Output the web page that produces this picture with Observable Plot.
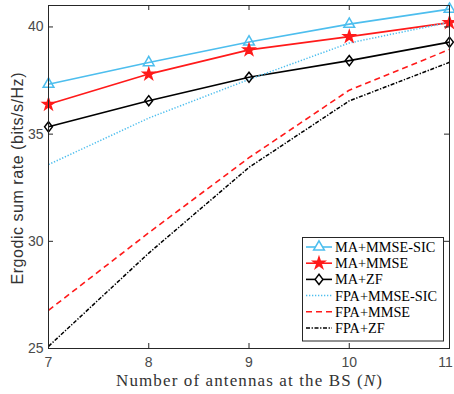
<!DOCTYPE html>
<html><head><meta charset="utf-8">
<script src="https://cdn.jsdelivr.net/npm/d3@7"></script>
<script src="https://cdn.jsdelivr.net/npm/@observablehq/plot@0.6"></script>
<style>html,body{margin:0;padding:0;background:#fff}svg{display:block}</style>
</head><body><div id="chart"></div>
<script>
// ---- data ----
const antennas = [7, 8, 9, 10, 11];
const maMmseSic = [37.33, 38.34, 39.3, 40.13, 40.83];
const maMmse = [36.39, 37.8, 38.93, 39.55, 40.2];
const maZf = [35.34, 36.56, 37.65, 38.43, 39.29];
const fpaMmseSic = [33.58, 35.75, 37.55, 39.25, 40.22];
const fpaMmse = [26.78, 30.4, 33.9, 37.05, 38.95];
const fpaZf = [25.1, 29.45, 33.45, 36.55, 38.35];
const seriesNames = ["MA+MMSE-SIC", "MA+MMSE", "MA+ZF", "FPA+MMSE-SIC", "FPA+MMSE", "FPA+ZF"];
const xTicks = [7, 8, 9, 10, 11];
const yTicks = [25, 30, 35, 40];
const xLabel = "Number of antennas at the BS ";
const xLabelVar = "N";
const yLabel = "Ergodic sum rate (bits/s/Hz)";

// ---- styles ----
const cyan = "#4DBEEE", red = "#FF1A1A", black = "#000000", axisColor = "#262626", tickText = "#4a4a4a";
const diamondSym = {
  draw(ctx, size) {
    const r = Math.sqrt(size / Math.PI);
    const h = r * 1.3, w = r * 1.0;
    ctx.moveTo(0, -h); ctx.lineTo(w, 0); ctx.lineTo(0, h); ctx.lineTo(-w, 0); ctx.closePath();
  }
};
const seriesStyle = [
  {values: maMmseSic, stroke: cyan, dash: null, width: 1.6, symbol: "triangle", fill: "none", r: 4},
  {values: maMmse, stroke: red, dash: null, width: 1.6, symbol: "star", fill: red, r: 3.6},
  {values: maZf, stroke: black, dash: null, width: 1.6, symbol: diamondSym, fill: "none", r: 3.9},
  {values: fpaMmseSic, stroke: cyan, dash: "1.3,1.7", width: 1.5, symbol: null},
  {values: fpaMmse, stroke: red, dash: "6,4", width: 1.6, symbol: null},
  {values: fpaZf, stroke: black, dash: "4,1.6,1.3,1.6", width: 1.5, symbol: null}
];
const tables = seriesStyle.map((s, k) => antennas.map((n, i) => ({n, v: s.values[i], name: seriesNames[k]})));

const W = 454, H = 394, mL = 48, mR = 5, mT = 5, mB = 46;
const pw = W - mL - mR, ph = H - mT - mB;

const marks = [];
seriesStyle.forEach((s, k) => {
  marks.push(Plot.line(tables[k], {x: "n", y: "v", stroke: s.stroke, strokeWidth: s.width,
    strokeDasharray: s.dash || undefined, strokeLinecap: "butt"}));
});
seriesStyle.forEach((s, k) => {
  if (s.symbol) marks.push(Plot.dot(tables[k], {x: "n", y: "v", symbol: s.symbol, r: s.r,
    stroke: s.stroke, fill: s.fill, strokeWidth: 1.5}));
});

const lastX = xTicks[xTicks.length - 1];
const chart = Plot.plot({
  width: W, height: H, marginLeft: mL, marginRight: mR, marginTop: mT, marginBottom: mB,
  style: {fontFamily: "'Liberation Sans', Arial, sans-serif", background: "#fff", color: "#404040"},
  x: {domain: [7, 11], axis: null},
  y: {domain: [25, 41], axis: null},
  marks: [
    ...marks,
    Plot.frame({stroke: axisColor, strokeWidth: 1}),
    Plot.tickX(xTicks, {x: d => d, insetTop: ph - 5, stroke: axisColor}),
    Plot.tickX(xTicks, {x: d => d, insetBottom: ph - 5, stroke: axisColor}),
    Plot.tickY(yTicks, {y: d => d, insetRight: pw - 5, stroke: axisColor}),
    Plot.tickY(yTicks, {y: d => d, insetLeft: pw - 5, stroke: axisColor}),
    Plot.text(xTicks.filter(d => d !== lastX), {x: d => d, text: d => String(d), frameAnchor: "bottom",
      lineAnchor: "top", dy: 9, fontSize: 14, fill: tickText}),
    Plot.text([lastX], {x: d => d, text: d => String(d), frameAnchor: "bottom",
      lineAnchor: "top", dy: 9, dx: -4, fontSize: 14, fill: tickText}),
    Plot.text(yTicks, {y: d => d, text: d => String(d), frameAnchor: "left",
      textAnchor: "end", dx: -5, fontSize: 14, fill: tickText})
  ]
});

const svg = d3.select(chart);
// axis labels
svg.append("text")
  .attr("transform", `translate(19,${mT + ph / 2 + 2}) rotate(-90)`)
  .attr("text-anchor", "middle").attr("dominant-baseline", "middle")
  .attr("font-family", "'Liberation Sans', Arial, sans-serif").attr("font-size", 16)
  .attr("fill", "#333").attr("textLength", 212).attr("lengthAdjust", "spacing")
  .text(yLabel);
const xl = svg.append("text")
  .attr("x", 249).attr("y", 386).attr("text-anchor", "middle")
  .attr("font-family", "'Liberation Serif', 'Times New Roman', serif").attr("font-size", 17)
  .attr("fill", "#333").attr("textLength", 266).attr("lengthAdjust", "spacing");
xl.append("tspan").text(xLabel + "(");
xl.append("tspan").attr("font-style", "italic").text(xLabelVar);
xl.append("tspan").text(")");

// legend
const lg = svg.append("g").attr("text-anchor", "start");
lg.append("rect").attr("x", 302.5).attr("y", 237.5).attr("width", 141).attr("height", 103.5)
  .attr("fill", "#fff").attr("stroke", axisColor).attr("stroke-width", 1);
const rowY = [247, 263.2, 279.4, 295.6, 311.8, 328];
seriesStyle.forEach((s, k) => {
  const y = rowY[k];
  lg.append("line").attr("x1", 306).attr("x2", 332).attr("y1", y).attr("y2", y)
    .attr("stroke", s.stroke).attr("stroke-width", s.width)
    .attr("stroke-dasharray", s.dash || null);
  if (s.symbol) {
    const sym = typeof s.symbol === "string"
      ? {triangle: d3.symbolTriangle, star: d3.symbolStar}[s.symbol] : s.symbol;
    lg.append("path").attr("d", d3.symbol(sym, Math.PI * s.r * s.r)())
      .attr("transform", `translate(319,${y})`)
      .attr("fill", s.fill === "none" ? "#fff" : s.fill).attr("stroke", s.stroke).attr("stroke-width", 1.5);
  }
  lg.append("text").attr("x", 335).attr("y", y).attr("dy", "0.35em")
    .attr("text-anchor", "start")
    .attr("font-family", "'Liberation Serif', 'Times New Roman', serif").attr("font-size", 14.3)
    .attr("fill", "#000").text(seriesNames[k]);
});

document.getElementById("chart").appendChild(chart);
</script>
</body></html>
